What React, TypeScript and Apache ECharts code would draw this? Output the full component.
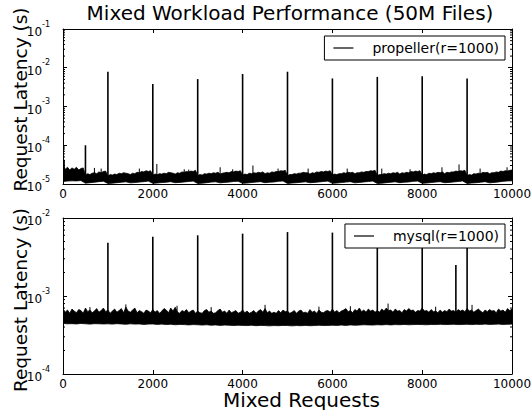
import { useEffect, useRef } from "react";
import * as echarts from "echarts";

const FONT = "DejaVu Sans";
const TITLE = "Mixed Workload Performance (50M Files)";
const X_LABEL = "Mixed Requests";
const Y_LABEL = "Request Latency (s)";
const TOP_NAME = "propeller(r=1000)";
const BOTTOM_NAME = "mysql(r=1000)";

const X_MAX = 10000;

// propeller band upper edge, microseconds, x = 0..10000 step 50
const propellerHigh = [
  30, 24, 27, 23, 26, 24, 27, 23, 25, 26, 17, 18.5, 17.5, 19, 19.5, 18.5, 20.5, 19.5, 21, 21.5,
  16, 17.5, 17, 18, 17.5, 19, 18.5, 19.5, 19, 18.5, 17.5, 19, 18.5, 20, 19.5, 21, 20.5, 22, 21, 22,
  17, 18, 17.5, 18.5, 18, 19, 18.5, 20, 19.5, 19, 18, 19.5, 19, 20.5, 20, 21, 20.5, 21.5, 21, 22.5,
  16.5, 17.5, 17, 18.5, 18, 19, 18.5, 19.5, 19, 20, 18, 19, 19.5, 20, 19.5, 21, 20.5, 21.5, 21, 22,
  17, 18, 17.5, 19, 18.5, 19.5, 19, 20, 19.5, 20.5, 18.5, 19.5, 19, 20.5, 20, 21, 21, 22, 21.5, 22.5,
  16.5, 17.5, 17.5, 18.5, 18, 19, 19, 20, 19.5, 19.5, 18, 19.5, 19, 20.5, 20, 21, 20.5, 21.5, 21, 22,
  17, 18, 17.5, 18.5, 18.5, 19.5, 19, 20, 19.5, 20, 18.5, 19.5, 19.5, 20.5, 20, 21, 21, 22, 21.5, 22.5,
  16.5, 17.5, 17.5, 18.5, 18, 19, 18.5, 19.5, 19, 20, 18, 19.5, 19, 20, 19.5, 21, 20.5, 21.5, 21, 22,
  17, 18, 17.5, 19, 18.5, 19.5, 19, 20, 19.5, 20.5, 18.5, 20, 19.5, 20.5, 20.5, 21.5, 21, 22, 21.5, 22.5,
  16.5, 17.5, 17, 18.5, 18, 19, 18.5, 20, 19.5, 20, 18.5, 19.5, 19.5, 20.5, 20, 21.5, 21, 22, 21.5, 22.5,
  23,
];
// propeller band lower edge, microseconds, x = 0..10000 step 100
const propellerLow = [
  11.6, 11.9, 12.1, 12.0, 12.3, 10.5, 10.8, 11.1, 11.5, 11.8,
  10.3, 10.5, 10.8, 11.1, 11.4, 10.7, 10.9, 11.2, 11.5, 11.9,
  10.4, 10.6, 10.9, 11.1, 11.5, 10.8, 11.0, 11.3, 11.6, 11.9,
  10.3, 10.5, 10.8, 11.2, 11.4, 10.7, 11.0, 11.2, 11.6, 11.8,
  10.4, 10.6, 10.9, 11.2, 11.5, 10.8, 11.1, 11.3, 11.7, 12.0,
  10.3, 10.6, 10.8, 11.1, 11.4, 10.8, 11.0, 11.3, 11.6, 11.9,
  10.4, 10.6, 10.9, 11.2, 11.5, 10.7, 11.0, 11.3, 11.6, 11.9,
  10.3, 10.5, 10.8, 11.1, 11.4, 10.8, 11.1, 11.3, 11.7, 11.9,
  10.4, 10.6, 10.9, 11.2, 11.5, 10.8, 11.0, 11.3, 11.6, 12.0,
  10.3, 10.6, 10.8, 11.1, 11.5, 10.7, 11.0, 11.3, 11.7, 12.0,
  12.1,
];
// propeller spikes: request index and peak latency (microseconds)
const propellerSpikeX = [500, 1000, 2000, 3000, 4000, 5000, 6000, 7000, 8000, 9000];
const propellerSpikeY = [100, 7900, 3800, 5100, 6900, 7900, 5300, 5800, 6000, 5300];
// small bursts above the propeller band
const propellerBurstX = [30, 700, 850, 1700, 2090, 2700, 2800, 3500, 3780, 4230, 4790, 5460, 6330, 7100, 7730, 8440, 8820, 9290, 9890];
const propellerBurstY = [42, 26, 25, 25, 33, 24, 23.5, 27, 24, 30, 25, 25, 25, 25, 24, 27, 32, 25, 27];

// mysql band upper edge, microseconds, x = 0..10000 step 50
const mysqlHigh = [
  690, 620, 660, 600, 680, 640, 610, 670, 650, 600, 700, 630, 660, 610, 640, 690, 620, 650, 700, 630,
  660, 600, 640, 680, 620, 650, 690, 610, 720, 640, 620, 660, 700, 610, 650, 630, 600, 660, 640, 610,
  670, 620, 650, 600, 640, 690, 660, 610, 700, 640, 720, 620, 600, 650, 630, 670, 610, 640, 660, 600,
  640, 610, 600, 650, 670, 620, 640, 600, 610, 650, 680, 620, 640, 600, 660, 610, 630, 650, 600, 620,
  660, 610, 640, 600, 620, 650, 600, 640, 670, 620, 690, 610, 640, 600, 620, 600, 650, 610, 660, 630,
  640, 600, 620, 650, 600, 640, 660, 610, 620, 600, 670, 620, 640, 600, 660, 620, 610, 640, 650, 620,
  680, 620, 650, 610, 640, 660, 690, 630, 650, 610, 670, 640, 700, 630, 660, 620, 680, 640, 660, 620,
  650, 620, 680, 640, 700, 650, 660, 620, 680, 640, 650, 610, 670, 640, 690, 650, 660, 620, 650, 640,
  700, 640, 650, 620, 670, 630, 640, 610, 660, 620, 650, 630, 680, 640, 650, 620, 670, 640, 660, 630,
  690, 640, 660, 620, 650, 680, 640, 610, 660, 630, 670, 640, 650, 610, 680, 640, 660, 620, 690, 650,
  680,
];
// mysql band lower edge, microseconds, x = 0..10000 step 100
const mysqlLow = [
  445, 440, 442, 438, 445, 440, 436, 442, 440, 438,
  440, 436, 442, 438, 434, 440, 436, 438, 432, 436,
  438, 432, 436, 430, 434, 428, 432, 430, 426, 430,
  428, 424, 428, 422, 426, 420, 424, 422, 418, 422,
  420, 418, 422, 416, 420, 418, 414, 418, 416, 420,
  418, 414, 418, 416, 420, 416, 418, 422, 418, 420,
  422, 420, 424, 420, 426, 422, 424, 428, 426, 424,
  428, 426, 430, 426, 430, 428, 432, 428, 430, 432,
  430, 428, 432, 430, 434, 430, 432, 434, 430, 432,
  434, 430, 434, 432, 436, 432, 434, 436, 432, 434,
  436,
];
const mysqlSpikeX = [1000, 2000, 3000, 4000, 5000, 6000, 7000, 8000, 8750, 9000];
const mysqlSpikeY = [4800, 5750, 6000, 6300, 6600, 6500, 5500, 5500, 2500, 5000];
const mysqlBurstX = [600, 1400, 2540, 3300, 4500, 5700, 6400, 7240, 8300, 9110];
const mysqlBurstY = [720, 780, 750, 720, 770, 730, 740, 800, 730, 770];

const MINOR_STEPS = [2, 3, 4, 5, 6, 7, 8, 9];
const US = 1e-6;

function edgeX(arr: number[], i: number) {
  return (i * X_MAX) / (arr.length - 1);
}

function bandSeries(name: string, axisIdx: number, hi: number[], lo: number[]) {
  const data = lo.map((l, i) => [edgeX(lo, i), l * US]);
  return {
    type: "custom",
    name,
    xAxisIndex: axisIdx,
    yAxisIndex: axisIdx,
    encode: { x: 0, y: 1 },
    data,
    itemStyle: { color: "#000" },
    clip: true,
    z: 2,
    renderItem: (params: any, api: any) => {
      if (params.dataIndex !== 0) return null;
      const top = hi.map((h, i) => api.coord([edgeX(hi, i), h * US]));
      const bot = lo.map((l, i) => api.coord([edgeX(lo, i), l * US])).reverse();
      return {
        type: "polygon",
        shape: { points: top.concat(bot) },
        style: { fill: "#000", stroke: "#000", lineWidth: 0.8 },
      };
    },
  };
}

function spikeSeries(name: string, axisIdx: number, xs: number[], ys: number[], lo: number[], width: number) {
  const step = X_MAX / (lo.length - 1);
  const data = xs.map((x, i) => [x, ys[i] * US, lo[Math.min(lo.length - 1, Math.round(x / step))] * US * 1.1]);
  return {
    type: "custom",
    name,
    xAxisIndex: axisIdx,
    yAxisIndex: axisIdx,
    encode: { x: 0, y: [1, 2] },
    data,
    itemStyle: { color: "#000" },
    clip: true,
    z: 3,
    renderItem: (params: any, api: any) => {
      const p1 = api.coord([api.value(0), api.value(1)]);
      const p0 = api.coord([api.value(0), api.value(2)]);
      return {
        type: "line",
        shape: { x1: p0[0], y1: p0[1], x2: p1[0], y2: p1[1] },
        style: { stroke: "#000", lineWidth: width },
      };
    },
  };
}

// minor ticks (2..9 x 10^n) on left and right frame edges
function minorTickSeries(axisIdx: number, minExp: number, maxExp: number) {
  const vals: number[] = [];
  for (let e = minExp; e < maxExp; e++) {
    for (const m of MINOR_STEPS) vals.push(m * Math.pow(10, e));
  }
  return {
    type: "custom",
    xAxisIndex: axisIdx,
    yAxisIndex: axisIdx,
    encode: { x: 0, y: 1 },
    data: vals.map((v) => [0, v]),
    silent: true,
    z: 5,
    renderItem: (params: any, api: any) => {
      const v = api.value(1);
      const l = api.coord([0, v]);
      const r = api.coord([X_MAX, v]);
      return {
        type: "group",
        children: [
          { type: "line", shape: { x1: l[0], y1: l[1], x2: l[0] + 2, y2: l[1] }, style: { stroke: "#000", lineWidth: 1 } },
          { type: "line", shape: { x1: r[0], y1: r[1], x2: r[0] - 2, y2: r[1] }, style: { stroke: "#000", lineWidth: 1 } },
        ],
      };
    },
  };
}

const axisLine = { show: true, onZero: false, lineStyle: { color: "#000", width: 1 } };

function xAxis(gridIndex: number, position: string, labels: boolean, name?: string) {
  return {
    type: "value",
    gridIndex,
    position,
    min: 0,
    max: X_MAX,
    interval: 2000,
    axisLine,
    axisTick: { show: true, inside: true, length: 4, lineStyle: { color: "#000" } },
    axisLabel: {
      show: labels,
      color: "#000",
      fontSize: 12,
      lineHeight: 12,
      margin: 4,
      fontFamily: FONT,
      formatter: (v: number) => String(v),
    },
    splitLine: { show: false },
    name,
    nameLocation: "middle",
    nameGap: 16.5,
    nameMoveOverlap: false,
    nameTextStyle: { fontSize: 20, lineHeight: 18, color: "#000", fontFamily: FONT, padding: [0, 0, 0, 28] },
  };
}

function yAxis(gridIndex: number, position: string, min: number, max: number, labels: boolean, name?: string, namePad?: number[]) {
  return {
    type: "log",
    logBase: 10,
    gridIndex,
    position,
    min,
    max,
    axisLine,
    axisTick: { show: true, inside: true, length: 4, lineStyle: { color: "#000" } },
    axisLabel: {
      show: labels,
      margin: 13,
      formatter: (v: number) => `{b|10}{s|${Math.round(Math.log10(v))}}`,
      rich: {
        b: { fontSize: 12, color: "#000", fontFamily: FONT, verticalAlign: "bottom", lineHeight: 18 },
        s: { fontSize: 8, color: "#000", fontFamily: FONT, verticalAlign: "top", lineHeight: 18 },
      },
    },
    splitLine: { show: false },
    name,
    nameLocation: "middle",
    nameGap: 33,
    nameMoveOverlap: false,
    nameTextStyle: { fontSize: 18.5, color: "#000", fontFamily: FONT, padding: namePad || 0 },
  };
}

function legend(name: string, top: number) {
  return {
    data: [name],
    right: 27,
    top,
    orient: "horizontal",
    padding: [5, 6, 5, 9],
    backgroundColor: "#fff",
    borderColor: "#000",
    borderWidth: 1,
    borderRadius: 0,
    icon: "rect",
    itemWidth: 20,
    itemHeight: 1.2,
    itemStyle: { color: "#000", borderWidth: 0 },
    textStyle: { fontSize: 14, color: "#000", fontFamily: FONT, padding: [0, 0, 0, 14] },
    selectedMode: false,
    z: 10,
  };
}

export default function App() {
  const ref = useRef<HTMLDivElement>(null);
  useEffect(() => {
    if (!ref.current) return;
    const chart = echarts.init(ref.current, undefined, { renderer: "svg" });
    chart.setOption({
      animation: false,
      backgroundColor: "#fff",
      textStyle: { fontFamily: FONT },
      title: {
        text: TITLE,
        left: 290,
        textAlign: "center",
        top: 3,
        padding: 0,
        textStyle: { fontSize: 20, fontWeight: "normal", color: "#000", fontFamily: FONT },
      },
      legend: [legend(TOP_NAME, 36), legend(BOTTOM_NAME, 224)],
      grid: [
        { left: 63, top: 29, width: 449, height: 155, containLabel: false, outerBoundsMode: "none" },
        { left: 63, top: 218, width: 449, height: 156, containLabel: false, outerBoundsMode: "none" },
      ],
      xAxis: [
        xAxis(0, "bottom", true),
        xAxis(0, "top", false),
        xAxis(1, "bottom", true, X_LABEL),
        xAxis(1, "top", false),
      ],
      yAxis: [
        yAxis(0, "left", 1e-5, 1e-1, true, Y_LABEL, [0, 0, 0, 14]),
        yAxis(0, "right", 1e-5, 1e-1, false),
        yAxis(1, "left", 1e-4, 1e-2, true, Y_LABEL, [0, 8, 0, 0]),
        yAxis(1, "right", 1e-4, 1e-2, false),
      ],
      series: [
        bandSeries(TOP_NAME, 0, propellerHigh, propellerLow),
        spikeSeries(TOP_NAME, 0, propellerSpikeX, propellerSpikeY, propellerLow, 1.6),
        spikeSeries(TOP_NAME, 0, propellerBurstX, propellerBurstY, propellerLow, 1),
        minorTickSeries(0, -5, -1),
        bandSeries(BOTTOM_NAME, 2, mysqlHigh, mysqlLow),
        spikeSeries(BOTTOM_NAME, 2, mysqlSpikeX, mysqlSpikeY, mysqlLow, 1.6),
        spikeSeries(BOTTOM_NAME, 2, mysqlBurstX, mysqlBurstY, mysqlLow, 1),
        minorTickSeries(2, -4, -2),
      ],
    });
    return () => chart.dispose();
  }, []);
  return (
    <div
      ref={ref}
      style={{ position: "fixed", left: 0, top: 0, width: 532, height: 410, background: "#fff" }}
    />
  );
}
